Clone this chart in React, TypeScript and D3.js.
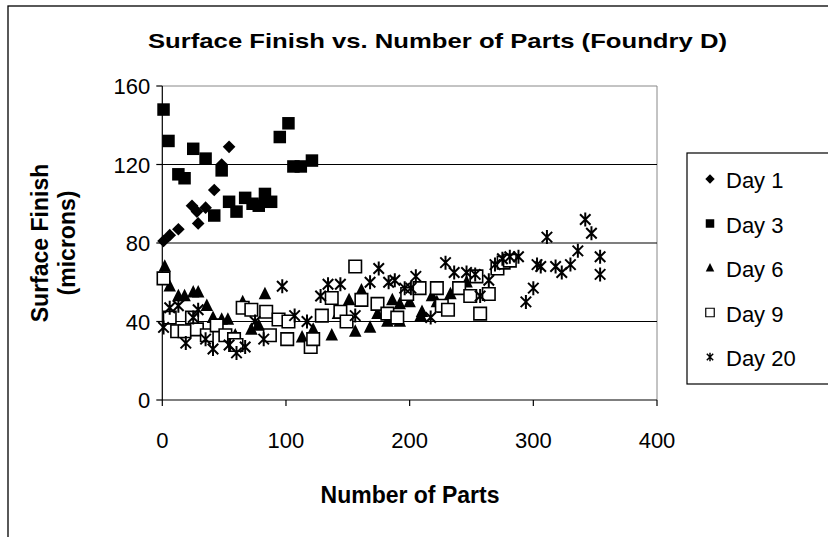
import React from "react";
import * as d3 from "d3";

const title = "Surface Finish vs. Number of Parts (Foundry D)";
const xTicks = [0, 100, 200, 300, 400];
const yTicks = [0, 40, 80, 120, 160];
const gridValues = [40, 80, 120];
const seriesNames = ["Day 1", "Day 3", "Day 6", "Day 9", "Day 20"];

const day1: [number, number][] = [
  [1, 81], [6, 84], [13, 87], [24, 99], [28, 96], [29, 90], [35, 98], [42, 107], [48, 120], [54, 129],
];
const day3: [number, number][] = [
  [1, 148], [5, 132], [13, 115], [18, 113], [25, 128], [35, 123], [48, 117], [42, 94], [54, 101], [60, 96],
  [67, 103], [73, 100], [78, 99], [83, 105], [88, 101], [95, 134], [102, 141], [106, 119], [112, 119], [121, 122],
];
const day6: [number, number][] = [
  [2, 68], [6, 58], [13, 53], [18, 53], [25, 55], [29, 55], [36, 48], [41, 42], [48, 41], [53, 41],
  [59, 33], [65, 50], [72, 36], [78, 38], [83, 54], [101, 31], [113, 32], [122, 36], [137, 33], [142, 44],
  [151, 51], [156, 35], [161, 56], [168, 37], [174, 44], [176, 48], [182, 40], [186, 51], [192, 40], [192, 49],
  [200, 50], [209, 43], [210, 45], [218, 53], [222, 50], [227, 47], [233, 54], [238, 57], [246, 60],
];
const day9: [number, number][] = [
  [1, 62], [6, 42], [12, 35], [18, 35], [24, 42], [28, 36], [36, 33], [44, 38], [51, 33], [58, 31],
  [60, 28], [65, 47], [72, 46], [84, 45], [87, 33], [94, 41], [101, 31], [102, 40], [120, 27], [122, 31],
  [129, 43], [137, 52], [144, 45], [149, 40], [156, 68], [161, 51], [174, 49], [182, 44], [190, 42], [198, 54],
  [208, 57], [222, 57], [226, 48], [231, 46], [240, 57], [249, 53], [254, 63], [257, 44], [264, 54], [271, 67],
  [276, 70], [281, 71],
];
const day20: [number, number][] = [
  [1, 37], [6, 47], [13, 48], [19, 29], [25, 42], [29, 46], [35, 31], [41, 26], [54, 28], [60, 24],
  [67, 27], [75, 40], [82, 31], [97, 58], [107, 43], [117, 40], [128, 53], [134, 59], [144, 59], [156, 43],
  [168, 60], [175, 67], [183, 60], [188, 61], [196, 57], [201, 57], [205, 63], [217, 42], [229, 70], [236, 65],
  [246, 65], [253, 64], [257, 53], [264, 61], [269, 69], [275, 72], [281, 73], [288, 73], [294, 50], [300, 57],
  [303, 69], [306, 68], [311, 83], [318, 68], [323, 65], [330, 69], [336, 76], [342, 92], [347, 85], [354, 73],
  [354, 64],
];

const allSeries = [day1, day3, day6, day9, day20];

const W = 828;
const H = 537;
const font = "Arial, 'Liberation Sans', sans-serif";

function markerPath(kind: number, s: number): string {
  const h = s / 2;
  switch (kind) {
    case 0:
      return `M0,${-h * 1.1}L${h * 1.1},0L0,${h * 1.1}L${-h * 1.1},0Z`;
    case 1:
    case 3:
      return `M${-h},${-h}H${h}V${h}H${-h}Z`;
    case 2:
      return `M0,${-h * 1.15}L${h},${h * 0.85}L${-h},${h * 0.85}Z`;
    default: {
      const d = h * 0.75;
      return `M0,${-h}V${h}M${-d},${-d}L${d},${d}M${-d},${d}L${d},${-d}`;
    }
  }
}

function Marker({ kind, x, y, s, legend }: { kind: number; x: number; y: number; s: number; legend?: boolean }) {
  const p = markerPath(kind, s);
  if (kind === 3) {
    return <path d={p} transform={`translate(${x},${y})`} fill="#fff" stroke="#000" strokeWidth={legend ? 1.2 : 1.6} />;
  }
  if (kind === 4) {
    return <path d={p} transform={`translate(${x},${y})`} fill="none" stroke="#000" strokeWidth={legend ? 1.5 : 2} />;
  }
  return <path d={p} transform={`translate(${x},${y})`} fill="#000" stroke="none" />;
}

export default function App() {
  const x = d3.scaleLinear().domain([0, 400]).range([162.3, 657]);
  const y = d3.scaleLinear().domain([0, 160]).range([400, 86]);
  const legendY = d3.scalePoint<string>().domain(seriesNames).range([180, 358]);

  return (
    <svg width={W} height={H} style={{ position: "absolute", left: 0, top: 0 }}>
      <rect x={0} y={0} width={W} height={H} fill="#fff" />
      <rect x={8} y={6} width={W + 20} height={H + 20} fill="none" stroke="#000" strokeWidth={1.3} />
      <text
        x={148}
        y={48}
        textLength={579}
        lengthAdjust="spacingAndGlyphs"
        fontFamily={font}
        fontWeight="bold"
        fontSize={21}
        fill="#000"
      >
        {title}
      </text>

      {/* plot area border */}
      <path d={`M${x(0)},${y(160)}H${x(400)}V${y(0)}`} fill="none" stroke="#888" strokeWidth={1} />
      {gridValues.map((g) => (
        <line key={g} x1={x(0)} x2={x(400)} y1={y(g)} y2={y(g)} stroke="#000" strokeWidth={1.2} />
      ))}
      {/* axes */}
      <line x1={x(0)} x2={x(0)} y1={y(0)} y2={y(160)} stroke="#000" strokeWidth={1.2} />
      <line x1={x(0)} x2={x(400)} y1={y(0)} y2={y(0)} stroke="#000" strokeWidth={1.2} />
      {yTicks.map((t) => (
        <g key={t}>
          <line x1={x(0) - 6} x2={x(0)} y1={y(t)} y2={y(t)} stroke="#000" strokeWidth={1.2} />
          <text x={x(0) - 12} y={y(t) + 8} textAnchor="end" fontFamily={font} fontSize={22} fill="#000">
            {t}
          </text>
        </g>
      ))}
      {xTicks.map((t) => (
        <g key={t}>
          <line x1={x(t)} x2={x(t)} y1={y(0)} y2={y(0) + 6} stroke="#000" strokeWidth={1.2} />
          <text x={x(t)} y={y(0) + 48} textAnchor="middle" fontFamily={font} fontSize={22} fill="#000">
            {t}
          </text>
        </g>
      ))}
      <text x={410} y={503} textAnchor="middle" fontFamily={font} fontWeight="bold" fontSize={23} fill="#000">
        Number of Parts
      </text>
      <g transform="translate(48,243) rotate(-90)">
        <text x={0} y={0} textAnchor="middle" fontFamily={font} fontWeight="bold" fontSize={23} fill="#000">
          Surface Finish
        </text>
        <text x={0} y={27} textAnchor="middle" fontFamily={font} fontWeight="bold" fontSize={23} fill="#000">
          (microns)
        </text>
      </g>

      {allSeries.map((series, k) => (
        <g key={k}>
          {series.map(([vx, vy], i) => (
            <Marker key={i} kind={k} x={x(vx)} y={y(vy)} s={k === 4 ? 14 : k === 0 ? 11.5 : 12.5} />
          ))}
        </g>
      ))}

      {/* legend */}
      <rect x={687} y={153} width={200} height={231} fill="#fff" stroke="#000" strokeWidth={1.2} />
      {seriesNames.map((name, k) => (
        <g key={name}>
          <Marker kind={k} x={710} y={(legendY(name) as number) - 1} s={8.5} legend />
          <text x={726} y={(legendY(name) as number) + 8} fontFamily={font} fontSize={22} fill="#000">
            {name}
          </text>
        </g>
      ))}
    </svg>
  );
}
